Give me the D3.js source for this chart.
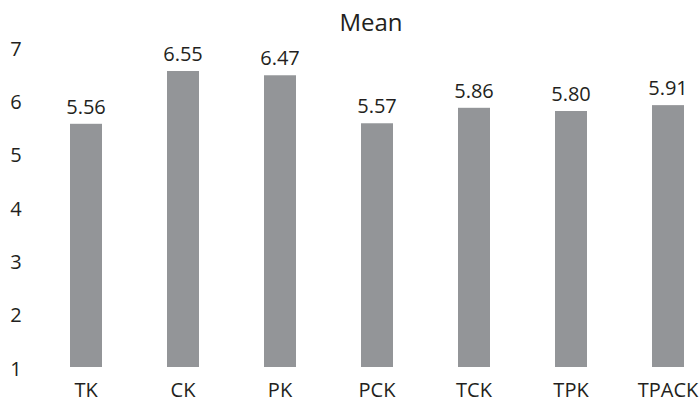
<!DOCTYPE html>
<html>
<head>
<meta charset="utf-8">
<script src="https://cdn.jsdelivr.net/npm/d3@7"></script>
<style>
  html, body { margin: 0; padding: 0; background: #fff; }
  svg text { font-family: "Open Sans", "Noto Sans", sans-serif; fill: #231f20; }
</style>
</head>
<body>
<svg id="chart" width="700" height="402"></svg>
<script>
// Mean scores per knowledge domain
const categories = ["TK", "CK", "PK", "PCK", "TCK", "TPK", "TPACK"];
const meanValues = [5.56, 6.55, 6.47, 5.57, 5.86, 5.80, 5.91];
const valueLabels = ["5.56", "6.55", "6.47", "5.57", "5.86", "5.80", "5.91"];
const yTicks = [1, 2, 3, 4, 5, 6, 7];
const chartTitle = "Mean";

const svg = d3.select("#chart");
const font = "'Open Sans', 'Noto Sans', sans-serif";

const x = d3.scaleBand()
  .domain(categories)
  .range([37.5, 716.5])
  .paddingInner(0.67)
  .paddingOuter(0.335);

const y = d3.scaleLinear()
  .domain([1, 7])
  .range([367, 47]);

// Title
svg.append("text")
  .attr("x", 371)
  .attr("y", 31)
  .attr("text-anchor", "middle")
  .style("font-size", "24px")
  .text(chartTitle);

// Y axis (labels only)
const yAxis = d3.axisLeft(y).tickValues(yTicks).tickSize(0).tickPadding(0).tickFormat(d3.format("d"));
const yG = svg.append("g").attr("transform", "translate(22,0)").call(yAxis);
yG.select(".domain").remove();
yG.selectAll("text")
  .attr("text-anchor", "middle")
  .attr("x", -6)
  .attr("dy", "0.4em")
  .style("font-size", "20px")
  .style("font-family", font)
  .attr("fill", "#231f20");

// X axis (labels only)
const xAxis = d3.axisBottom(x).tickSize(0).tickPadding(0);
const xG = svg.append("g").attr("transform", "translate(0,367)").call(xAxis);
xG.select(".domain").remove();
xG.selectAll("text")
  .attr("y", 30)
  .attr("dy", 0)
  .style("font-size", "20px")
  .style("font-family", font)
  .attr("fill", "#231f20");

// Bars
svg.append("g").selectAll("rect")
  .data(categories)
  .join("rect")
  .attr("x", d => x(d))
  .attr("width", x.bandwidth())
  .attr("y", (d, i) => y(meanValues[i]))
  .attr("height", (d, i) => y(1) - y(meanValues[i]))
  .attr("fill", "#939598");

// Value labels
svg.append("g").selectAll("text")
  .data(categories)
  .join("text")
  .attr("x", d => x(d) + x.bandwidth() / 2)
  .attr("y", (d, i) => y(meanValues[i]) - 10)
  .attr("text-anchor", "middle")
  .style("font-size", "20px")
  .text((d, i) => valueLabels[i]);
</script>
</body>
</html>
